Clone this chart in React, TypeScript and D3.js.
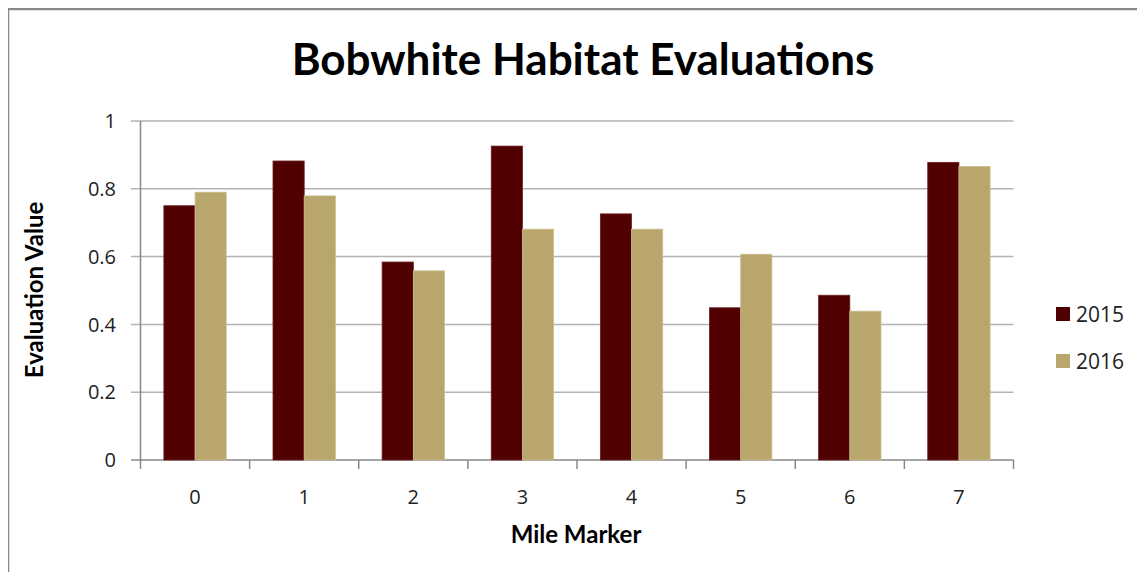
import React from "react";
import * as d3 from "d3";

const categories = ["0", "1", "2", "3", "4", "5", "6", "7"];
const series2015 = [0.75, 0.882, 0.584, 0.926, 0.726, 0.449, 0.486, 0.878];
const series2016 = [0.79, 0.779, 0.558, 0.681, 0.681, 0.607, 0.439, 0.866];
const seriesNames = ["2015", "2016"];
const seriesColors = ["#500000", "#B8A66D"];
const yTicks = [0, 0.2, 0.4, 0.6, 0.8, 1];

const W = 1145;
const H = 580;
const TFONT = "Lato, 'Open Sans', sans-serif";
const NFONT = "'Open Sans', Lato, sans-serif";

export default function App() {
  const left = 140.5;
  const right = 1013.5;
  const top = 121;
  const bottom = 460;
  const x = d3.scaleBand<string>().domain(categories).range([left, right]).paddingInner(0).paddingOuter(0);
  const y = d3.scaleLinear().domain([0, 1]).range([bottom, top]);
  const bw = x.bandwidth() / 3.5;
  const inner = d3.scaleBand<string>().domain(seriesNames).range([bw * 0.75, bw * 2.75]);
  const data = [series2015, series2016];

  return (
    <div style={{ margin: -8 }}>
      <svg width={W} height={H} style={{ display: "block", background: "#fff" }}>
        <rect x={0} y={0} width={W} height={H} fill="#fff" />
        <line x1={8} y1={9} x2={W} y2={9} stroke="#888" strokeWidth={2.5} />
        <line x1={8} y1={9} x2={8} y2={H} stroke="#888" strokeWidth={2.5} />
        <text x={583} y={75} textAnchor="middle" fontFamily={TFONT} fontWeight="bold" fontSize={44} fill="#000">
          Bobwhite Habitat Evaluations
        </text>
        {yTicks.map((t) => (
          <g key={t}>
            <line x1={131} x2={right} y1={y(t)} y2={y(t)} stroke={t === 0 ? "#888" : "#b3b3b3"} strokeWidth={1.5} />
            <text x={116} y={y(t)} dy="0.36em" textAnchor="end" fontFamily={NFONT} fontSize={20} fill="#222">
              {String(t)}
            </text>
          </g>
        ))}
        <line x1={left} x2={left} y1={top} y2={bottom} stroke="#888" strokeWidth={1.5} />
        {categories.map((c) => (
          <line key={"tk" + c} x1={x(c)!} x2={x(c)!} y1={bottom} y2={bottom + 9} stroke="#888" strokeWidth={1.5} />
        ))}
        <line x1={right} x2={right} y1={bottom} y2={bottom + 9} stroke="#888" strokeWidth={1.5} />
        {data.map((s, si) =>
          s.map((v, i) => (
            <rect
              key={si + "-" + i}
              x={x(categories[i])! + inner(seriesNames[si])!}
              y={y(v)}
              width={inner.bandwidth()}
              height={y(0) - y(v)}
              fill={seriesColors[si]}
              stroke={si === 0 ? "#6a2020" : "#cdbf90"}
              strokeWidth={0.8}
            />
          ))
        )}
        {categories.map((c) => (
          <text key={"xl" + c} x={x(c)! + x.bandwidth() / 2} y={497} dy="0.36em" textAnchor="middle" fontFamily={NFONT} fontSize={20} fill="#222">
            {c}
          </text>
        ))}
        <text x={576} y={543} textAnchor="middle" fontFamily={TFONT} fontWeight="bold" fontSize={24} fill="#000">
          Mile Marker
        </text>
        <text transform="translate(34,290) rotate(-90)" dy="0.36em" textAnchor="middle" fontFamily={TFONT} fontWeight="bold" fontSize={24} fill="#000">
          Evaluation Value
        </text>
        {seriesNames.map((n, i) => (
          <g key={"lg" + n}>
            <rect x={1056} y={307 + i * 47} width={14} height={14} fill={seriesColors[i]} />
            <text x={1076} y={314 + i * 47} dy="0.36em" fontFamily={NFONT} fontSize={21} fill="#222">
              {n}
            </text>
          </g>
        ))}
      </svg>
    </div>
  );
}
